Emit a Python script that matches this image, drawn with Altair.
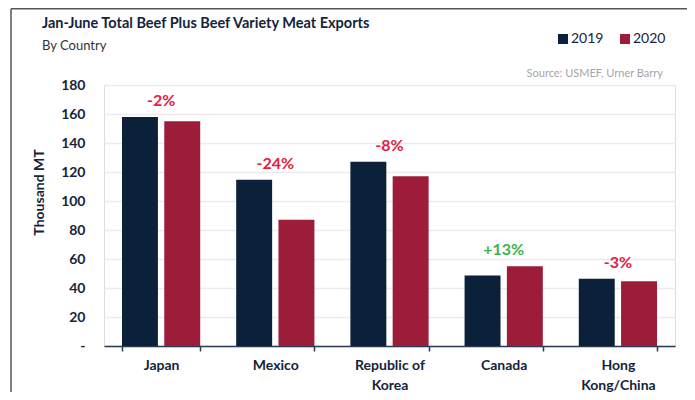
import altair as alt
import pandas as pd

countries = ["Japan", "Mexico", "Republic of Korea", "Canada", "Hong Kong/China"]
years = ["2019", "2020"]
values_2019 = [158.0, 114.7, 127.0, 48.7, 46.4]
values_2020 = [155.0, 87.0, 117.0, 55.0, 44.6]
changes = ["-2%", "-24%", "-8%", "+13%", "-3%"]
y_ticks = [0, 20, 40, 60, 80, 100, 120, 140, 160, 180]
title_text = "Jan-June Total Beef Plus Beef Variety Meat Exports"
subtitle_text = "By Country"
source_text = "Source: USMEF, Urner Barry"

NAVY = "#0b2039"
CRIMSON = "#9c1c3a"
RED = "#e2203f"
GREEN = "#3cb44b"
TEXT = "#16243a"
FONT = "Lato"

rows = []
for c, a, b in zip(countries, values_2019, values_2020):
    rows.append({"country": c, "year": "2019", "value": a})
    rows.append({"country": c, "year": "2020", "value": b})
bars_df = pd.DataFrame(rows)

labels_df = pd.DataFrame({
    "country": countries,
    "change": changes,
    "value": [max(a, b) for a, b in zip(values_2019, values_2020)],
})

one = pd.DataFrame({"k": [0]})

x_enc = alt.X(
    "country:N", sort=countries,
    scale=alt.Scale(paddingInner=0.315, paddingOuter=0.1575),
    axis=alt.Axis(
        title=None, labelAngle=0, tickBand="extent", tickSize=5,
        tickColor="#2b3b52", tickWidth=1.5, domainColor="#2b3b52", domainWidth=1.5,
        labelFont=FONT, labelFontSize=14, labelFontWeight="bold", labelColor=TEXT,
        labelPadding=7, labelLineHeight=20, grid=False,
        labelExpr="datum.label == 'Republic of Korea' ? ['Republic of', 'Korea'] : datum.label == 'Hong Kong/China' ? ['Hong', 'Kong/China'] : datum.label",
    ),
)

y_enc = alt.Y(
    "value:Q",
    scale=alt.Scale(domain=[0, 180], nice=False),
    axis=alt.Axis(
        values=y_ticks, title="Thousand MT", titleFont=FONT, titleFontSize=14,
        titleFontWeight="bold", titleColor=TEXT, titleX=-58, titleY=107,
        labelFont=FONT, labelFontSize=14, labelFontWeight="bold", labelColor=TEXT,
        labelPadding=19, ticks=False, domain=False, labelOverlap=False,
        gridColor="#ebebeb", gridWidth=1.5,
        labelExpr="datum.value == 0 ? '-' : datum.label",
    ),
)

bars = alt.Chart(bars_df).mark_bar().encode(
    x=x_enc,
    xOffset=alt.XOffset("year:N", sort=years, scale=alt.Scale(paddingInner=0.15, paddingOuter=0)),
    y=y_enc,
    color=alt.Color(
        "year:N",
        scale=alt.Scale(domain=years, range=[NAVY, CRIMSON]),
        legend=alt.Legend(
            title=None, orient="none", legendX=452, legendY=-53, direction="horizontal",
            symbolType="square", symbolSize=100, symbolStrokeWidth=0, symbolOpacity=1,
            labelFont=FONT, labelFontSize=14, labelColor=TEXT, columnPadding=14,
            labelOffset=1,
        ),
    ),
)

pct = alt.Chart(labels_df).mark_text(
    font=FONT, fontSize=16, fontWeight="bold", baseline="middle", dy=-16
).encode(
    x=x_enc,
    y=y_enc,
    text="change:N",
    color=alt.condition("indexof(datum.change, '+') == 0", alt.value(GREEN), alt.value(RED)),
)

title = alt.Chart(one).mark_text(
    font=FONT, fontSize=14.5, fontWeight="bold", align="left", baseline="middle", color="#14233a"
).encode(x=alt.value(-62), y=alt.value(-61.5), text=alt.value(title_text))

subtitle = alt.Chart(one).mark_text(
    font=FONT, fontSize=13, align="left", baseline="middle", color="#333333"
).encode(x=alt.value(-62), y=alt.value(-39), text=alt.value(subtitle_text))

source = alt.Chart(one).mark_text(
    font=FONT, fontSize=11, align="right", baseline="middle", color="#a6a6a6"
).encode(x=alt.value(559), y=alt.value(-11), text=alt.value(source_text))

border_top = alt.Chart(one).mark_rule(color="#555555", strokeWidth=1.5).encode(
    x=alt.value(-93), x2=alt.value(583), y=alt.value(-76.25)
)
border_left = alt.Chart(one).mark_rule(color="#555555", strokeWidth=1.5).encode(
    x=alt.value(-93), y=alt.value(-76.25), y2=alt.value(310)
)

chart = alt.layer(border_top, border_left, bars, pct, title, subtitle, source).properties(
    width=571, height=261,
    padding={"left": 96, "top": 77, "right": 12, "bottom": 46},
    autosize=alt.AutoSizeParams(type="none"),
).configure_view(stroke=None).configure(background="white")

chart.save("out.html", embed_options={"renderer": "svg", "actions": False})
